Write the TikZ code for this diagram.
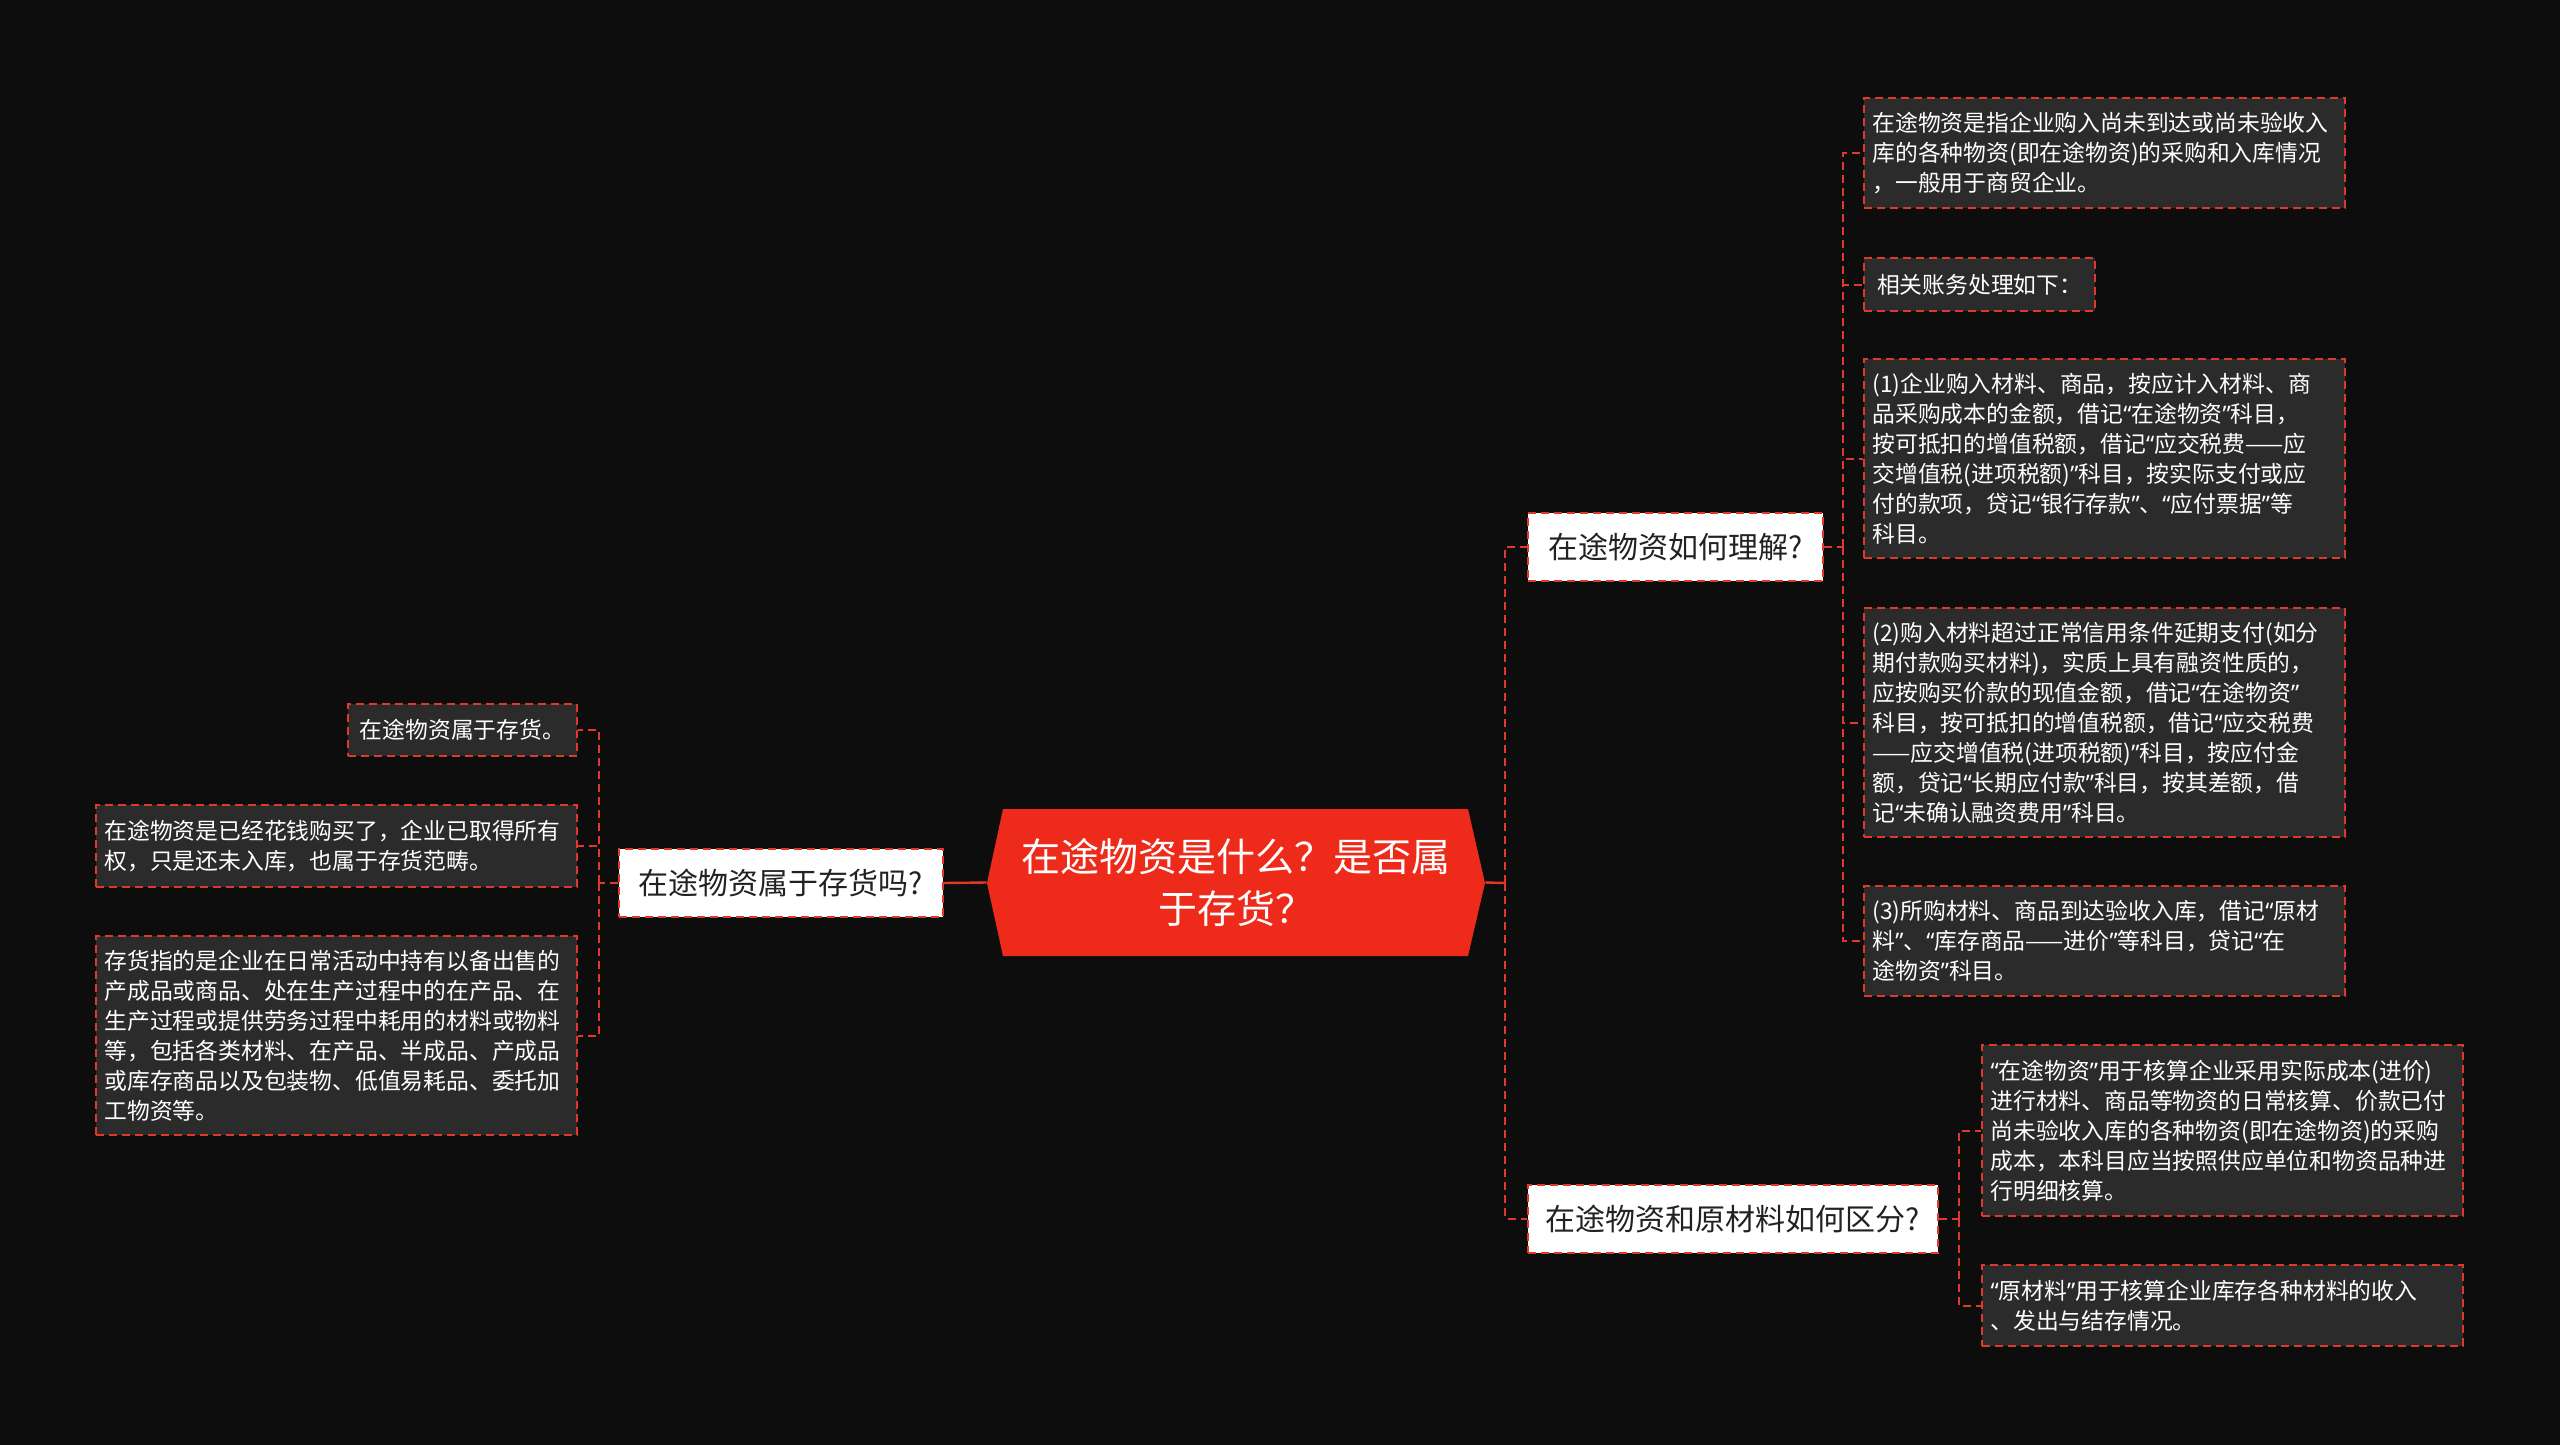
\documentclass[tikz,border=0pt]{standalone}
\usepackage{fontspec}
\newfontfamily\cjk{Noto Sans CJK SC}
\newfontfamily\latq{Noto Sans}
\newcommand\ql{{\latq “}}
\newcommand\qr{{\latq ”}}
\definecolor{bgc}{HTML}{0D0D0D}
\definecolor{lred}{HTML}{E0392B}
\definecolor{rootred}{HTML}{EE2B1A}
\definecolor{leafgray}{HTML}{2B2B2B}
\definecolor{topictext}{HTML}{222222}
\tikzset{
  dashline/.style={draw=lred, line width=1pt, dash pattern=on 4pt off 2.5pt},
  solidline/.style={draw=lred, line width=1.2pt},
  leafbox/.style={draw=lred, fill=leafgray, line width=1pt, dash pattern=on 4pt off 2.5pt,
    text=white, font=\cjk\fontsize{11.4}{15}\selectfont, align=left, inner ysep=0pt},
  wideleaf/.style={leafbox, text width=232pt, inner xsep=4.25pt},
  topicbox/.style={draw=lred, fill=white, line width=1pt, dash pattern=on 4pt off 2.5pt,
    text=topictext, font=\cjk\fontsize{15}{18}\selectfont, inner sep=0pt, minimum height=34pt},
  rootbox/.style={inner sep=0pt, minimum width=249pt, minimum height=73.5pt, align=center,
    text=white, font=\cjk\fontsize{19.5}{26}\selectfont}
}
\exhyphenpenalty=10000
\hyphenpenalty=10000
\begin{document}
\begin{tikzpicture}[x=0.5pt,y=-0.5pt]
\fill[bgc] (0,0) rectangle (2560,1445);
\useasboundingbox (0,0) rectangle (2560,1445);

% root
\fill[rootred] (987,883) -- (1003,809) -- (1468,809) -- (1485,883) -- (1468,956) -- (1003,956) -- cycle;
\node[rootbox] (root) at (1236,882.5) {在途物资是什么？是否属\\于存货？};

% topics
\node[topicbox, minimum width=162pt, anchor=east] (q1) at (944,883) {在途物资属于存货吗?};
\node[topicbox, minimum width=147.5pt, anchor=west] (q2) at (1527,547) {在途物资如何理解?};
\node[topicbox, minimum width=205pt, anchor=west] (q3) at (1527,1218.5) {在途物资和原材料如何区分?};

% left leaves
\node[leafbox, inner xsep=6pt, minimum height=26pt, anchor=east] (l1) at (578,730) {在途物资属于存货。};
\node[wideleaf, minimum height=41pt, anchor=east] (l2) at (578,846) {在途物资是已经花钱购买了，企业已取得所有\\权，只是还未入库，也属于存货范畴。};
\node[wideleaf, minimum height=99.5pt, anchor=east] (l3) at (578,1035.5) {存货指的是企业在日常活动中持有以备出售的\\产成品或商品、处在生产过程中的在产品、在\\生产过程或提供劳务过程中耗用的材料或物料\\等，包括各类材料、在产品、半成品、产成品\\或库存商品以及包装物、低值易耗品、委托加\\工物资等。};

% right leaves (q2)
\node[wideleaf, minimum height=55pt, anchor=west] (r1) at (1863,153) {在途物资是指企业购入尚未到达或尚未验收入\\库的各种物资(即在途物资)的采购和入库情况\\，一般用于商贸企业。};
\node[leafbox, inner xsep=6.5pt, minimum height=26.5pt, anchor=west] (r2) at (1863,284.5) {相关账务处理如下：};
\node[wideleaf, minimum height=99.5pt, anchor=west] (r3) at (1863,458.5) {(1)企业购入材料、商品，按应计入材料、商\\品采购成本的金额，借记\ql{}在途物资\qr{}科目，\\按可抵扣的增值税额，借记\ql{}应交税费——应\\交增值税(进项税额)\qr{}科目，按实际支付或应\\付的款项，贷记\ql{}银行存款\qr{}、\ql{}应付票据\qr{}等\\科目。};
\node[wideleaf, minimum height=114.5pt, anchor=west] (r4) at (1863,722.5) {(2)购入材料超过正常信用条件延期支付(如分\\期付款购买材料)，实质上具有融资性质的，\\应按购买价款的现值金额，借记\ql{}在途物资\qr{}\\科目，按可抵扣的增值税额，借记\ql{}应交税费\\——应交增值税(进项税额)\qr{}科目，按应付金\\额，贷记\ql{}长期应付款\qr{}科目，按其差额，借\\记\ql{}未确认融资费用\qr{}科目。};
\node[wideleaf, minimum height=55pt, anchor=west] (r5) at (1863,941) {(3)所购材料、商品到达验收入库，借记\ql{}原材\\料\qr{}、\ql{}库存商品——进价\qr{}等科目，贷记\ql{}在\\途物资\qr{}科目。};

% bottom right leaves (q3)
\node[wideleaf, minimum height=85.5pt, anchor=west] (b1) at (1981,1130.5) {\ql{}在途物资\qr{}用于核算企业采用实际成本(进价)\\进行材料、商品等物资的日常核算、价款已付\\尚未验收入库的各种物资(即在途物资)的采购\\成本，本科目应当按照供应单位和物资品种进\\行明细核算。};
\node[wideleaf, minimum height=40.5pt, anchor=west] (b2) at (1981,1305.5) {\ql{}原材料\qr{}用于核算企业库存各种材料的收入\\、发出与结存情况。};

% junction coordinates
\coordinate (jr) at (1505,883);
\coordinate (jl) at (599,883);
\coordinate (j2) at (1843,547);
\coordinate (j3) at (1959,1218.5);

% connectors
\draw[solidline] (root.east) -- (jr);
\draw[solidline] (root.west) -- (q1.east);
\draw[dashline] (jr) |- (q2.west);
\draw[dashline] (jr) |- (q3.west);

\draw[dashline] (q1.west) -- (jl);
\draw[dashline] (jl) |- (l1.east);
\draw[dashline] (jl) |- (l2.east);
\draw[dashline] (jl) |- (l3.east);

\draw[dashline] (q2.east) -- (j2);
\draw[dashline] (j2) |- (r1.west);
\draw[dashline] (j2) |- (r2.west);
\draw[dashline] (j2) |- (r3.west);
\draw[dashline] (j2) |- (r4.west);
\draw[dashline] (j2) |- (r5.west);

\draw[dashline] (q3.east) -- (j3);
\draw[dashline] (j3) |- (b1.west);
\draw[dashline] (j3) |- (b2.west);
\end{tikzpicture}
\end{document}
